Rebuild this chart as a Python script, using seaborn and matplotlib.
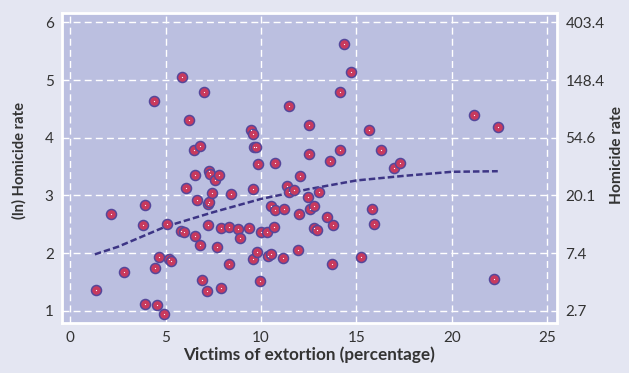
import numpy as np
import pandas as pd
import matplotlib
matplotlib.use("Agg")
import matplotlib.pyplot as plt
import seaborn as sns

# --- Data --- #
extortion = [1.35, 2.15, 2.85, 3.92, 3.83, 3.92, 4.39, 4.44, 4.58, 4.65,
             4.91, 5.10, 5.17, 5.30, 5.79, 5.96, 5.86, 6.07, 6.22, 6.50,
             6.78, 6.52, 6.54, 6.64, 6.82, 6.90, 6.99, 7.18, 7.20, 7.30,
             7.25, 7.30, 7.35, 7.45, 7.60, 7.71, 7.78, 7.92, 7.92, 8.32,
             8.32, 8.41, 8.78, 8.88, 9.37, 9.50, 9.58, 9.58, 9.58, 9.62,
             9.76, 9.77, 9.86, 9.95, 10.02, 10.29, 10.35, 10.50, 10.54, 10.68,
             10.75, 10.75, 11.15, 11.19, 11.36, 11.47, 11.48, 11.71, 11.96, 11.99,
             12.06, 12.48, 12.50, 12.50, 12.57, 12.80, 12.80, 12.95, 13.06, 13.44,
             13.63, 13.72, 13.79, 14.12, 14.12, 14.37, 14.70, 15.26, 15.68, 15.80,
             15.94, 16.31, 16.99, 17.30, 21.13, 22.18, 22.39]
ln_homicide = [1.36, 2.68, 1.67, 2.84, 2.48, 1.12, 4.63, 1.75, 1.10, 1.93,
               0.95, 2.51, 1.90, 1.86, 2.39, 2.37, 5.06, 3.13, 4.30, 3.78,
               3.86, 3.36, 2.29, 2.92, 2.14, 1.54, 4.80, 1.35, 2.85, 2.89,
               2.49, 3.42, 3.37, 3.04, 3.26, 2.11, 3.35, 2.43, 1.39, 2.45,
               1.81, 3.02, 2.42, 2.27, 2.43, 4.13, 4.07, 3.11, 1.90, 3.84,
               3.84, 2.02, 3.55, 1.51, 2.37, 2.36, 1.95, 1.99, 2.82, 2.46,
               2.75, 3.56, 1.92, 2.77, 3.17, 4.55, 3.06, 3.10, 2.05, 2.68,
               3.34, 2.97, 4.22, 3.72, 2.77, 2.81, 2.44, 2.40, 3.06, 2.62,
               3.59, 1.81, 2.49, 4.80, 3.78, 5.63, 5.14, 1.93, 4.14, 2.77,
               2.50, 3.78, 3.47, 3.56, 4.39, 1.55, 4.18]

# trend curve
trend_x = [1.3, 2.5, 5, 7.5, 10, 12.5, 15, 17.5, 20, 22.4]
trend_y = [1.98, 2.11, 2.46, 2.71, 2.94, 3.11, 3.26, 3.34, 3.41, 3.42]

y_ticks = [1, 2, 3, 4, 5, 6]
x_ticks = [0, 5, 10, 15, 20, 25]
rate_labels = ["2.7", "7.4", "20.1", "54.6", "148.4", "403.4"]

df = pd.DataFrame({"x": extortion, "y": ln_homicide})
trend = pd.DataFrame({"x": trend_x, "y": trend_y})

# --- Style --- #
sns.set_theme(style="darkgrid")
plt.rcParams["font.family"] = ["Lato", "DejaVu Sans"]
fig_bg = "#E4E6F2"
ax_bg = "#BBBFE0"
txt = "#333333"

fig = plt.figure(figsize=(6.29, 3.73), dpi=100, facecolor=fig_bg)
ax = fig.add_axes([0.0986, 0.134, 0.7869, 0.831])
ax.set_facecolor(ax_bg)

sns.lineplot(data=trend, x="x", y="y", ax=ax, color="#3D3585", lw=1.8,
             zorder=2)
ax.lines[-1].set_dashes((2.6, 1.2))
sns.scatterplot(data=df, x="x", y="y", ax=ax, s=52, color="#C83A5E",
                edgecolor="#55479A", linewidth=1.1, zorder=3)
sns.scatterplot(data=df, x="x", y="y", ax=ax, s=0.8, color="white",
                linewidth=0, zorder=4)

ax.set_xlim(-0.42, 25.5)
ax.set_ylim(0.79, 6.16)
ax.set_xticks(x_ticks)
ax.set_yticks(y_ticks)
ax.grid(True, color="white", linestyle=(0, (5, 3)), linewidth=1)
ax.tick_params(length=0, labelsize=11, colors=txt, pad=6)
for sp in ax.spines.values():
    sp.set_visible(True)
    sp.set_color("white")
    sp.set_linewidth(2)
ax.set_xlabel("Victims of extortion (percentage)", fontsize=12.3,
              fontweight="bold", color=txt, labelpad=1)
ax.set_ylabel("(ln) Homicide rate", fontsize=10.6, fontweight="bold",
              color=txt)
ax.yaxis.set_label_coords(-0.071, 0.523)

ax2 = ax.twinx()
ax2.set_ylim(ax.get_ylim())
ax2.set_yticks(y_ticks)
ax2.set_yticklabels(rate_labels)
ax2.grid(False)
ax2.tick_params(length=0, labelsize=11, colors=txt, pad=6)
for sp in ax2.spines.values():
    sp.set_visible(False)
ax2.set_ylabel("Homicide rate", fontsize=11.2, fontweight="bold", color=txt)
ax2.yaxis.set_label_coords(1.107, 0.542)

fig.savefig("out.png", dpi=100, facecolor=fig_bg)
